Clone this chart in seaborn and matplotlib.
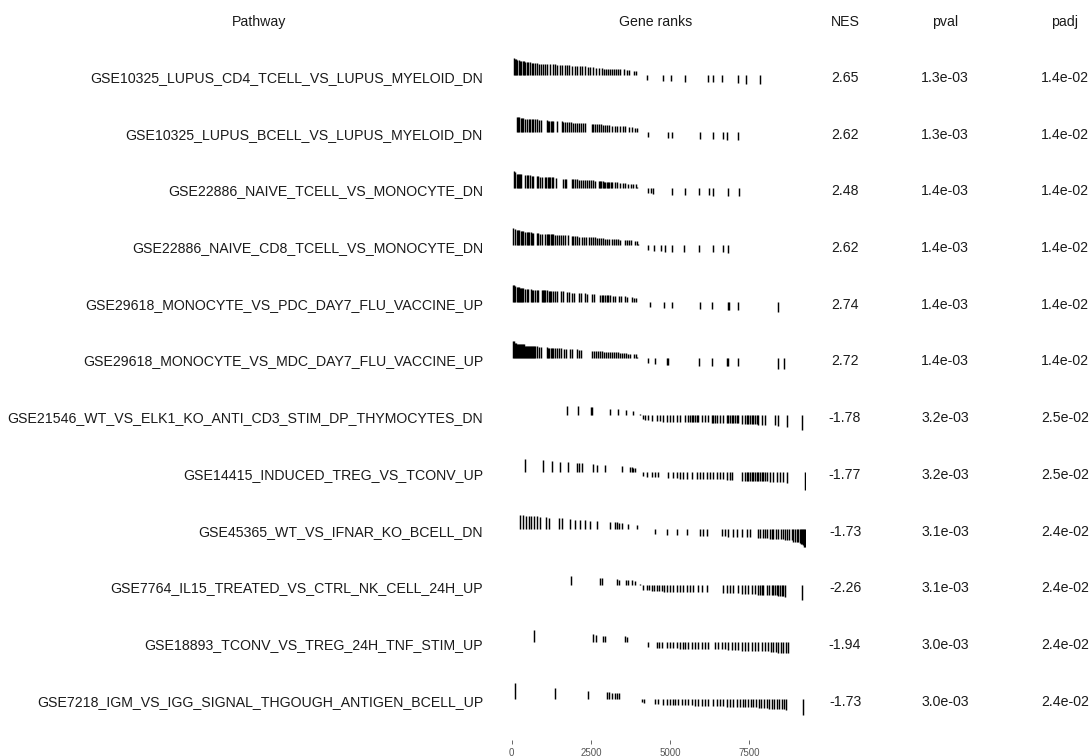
import numpy as np
import pandas as pd
import matplotlib
matplotlib.use("Agg")
import matplotlib.pyplot as plt
import matplotlib.transforms as mtransforms
import seaborn as sns

# ---- GSEA results table -------------------------------------------------
pathways = [
    "GSE10325_LUPUS_CD4_TCELL_VS_LUPUS_MYELOID_DN",
    "GSE10325_LUPUS_BCELL_VS_LUPUS_MYELOID_DN",
    "GSE22886_NAIVE_TCELL_VS_MONOCYTE_DN",
    "GSE22886_NAIVE_CD8_TCELL_VS_MONOCYTE_DN",
    "GSE29618_MONOCYTE_VS_PDC_DAY7_FLU_VACCINE_UP",
    "GSE29618_MONOCYTE_VS_MDC_DAY7_FLU_VACCINE_UP",
    "GSE21546_WT_VS_ELK1_KO_ANTI_CD3_STIM_DP_THYMOCYTES_DN",
    "GSE14415_INDUCED_TREG_VS_TCONV_UP",
    "GSE45365_WT_VS_IFNAR_KO_BCELL_DN",
    "GSE7764_IL15_TREATED_VS_CTRL_NK_CELL_24H_UP",
    "GSE18893_TCONV_VS_TREG_24H_TNF_STIM_UP",
    "GSE7218_IGM_VS_IGG_SIGNAL_THGOUGH_ANTIGEN_BCELL_UP",
]
nes = [2.65, 2.62, 2.48, 2.62, 2.74, 2.72, -1.78, -1.77, -1.73, -2.26, -1.94, -1.73]
pval = [1.3e-3, 1.3e-3, 1.4e-3, 1.4e-3, 1.4e-3, 1.4e-3, 3.2e-3, 3.2e-3, 3.1e-3, 3.1e-3, 3.0e-3, 3.0e-3]
padj = [1.4e-2, 1.4e-2, 1.4e-2, 1.4e-2, 1.4e-2, 1.4e-2, 2.5e-2, 2.5e-2, 2.4e-2, 2.4e-2, 2.4e-2, 2.4e-2]

# ---- ranked gene statistic (scaled to max |stat| = 1) -------------------
n_genes = 9300
stat_rank = [0, 50, 100, 200, 300, 500, 700, 1000, 1250, 1500, 1750, 2000, 2250,
             2500, 2750, 3000, 3250, 3500, 3750, 3900, 4000, 4100, 4200, 4300,
             4500, 5000, 5500, 6000, 6500, 7000, 7500, 8000, 8250, 8500, 8750,
             9000, 9100, 9150, 9200, 9250]
stat_value = [1.0, 0.92, 0.86, 0.80, 0.76, 0.70, 0.66, 0.62, 0.59, 0.56, 0.52, 0.49, 0.46,
              0.43, 0.39, 0.35, 0.33, 0.30, 0.26, 0.22, 0.08, -0.19, -0.24, -0.27,
              -0.30, -0.35, -0.36, -0.38, -0.40, -0.43, -0.47, -0.51, -0.54, -0.57, -0.62,
              -0.70, -0.76, -0.82, -0.90, -1.0]

# ---- positions of pathway genes in the ranked list ----------------------
ranks_1 = [72, 103, 135, 177, 219, 261, 303, 345, 387, 429, 471, 513, 576, 639, 681,
           744, 807, 870, 933, 996, 1059, 1122, 1206, 1290, 1353, 1437, 1521, 1584,
           1668, 1731, 1815, 1899, 1983, 2067, 2151, 2235, 2319, 2403, 2487, 2571,
           2676, 2760, 2844, 2928, 2991, 3054, 3117, 3180, 3243, 3306, 3369, 3432,
           3558, 3642, 3705, 3873, 3936,
           4286, 4781, 5044, 5465, 6200, 6358, 6652, 7147, 7389, 7852]
ranks_2 = [157, 199, 241, 283, 325, 367, 430, 494, 536, 578, 641, 683, 746, 809, 872,
           936, 1104, 1146, 1188, 1230, 1272, 1314, 1419, 1577, 1630, 1693, 1735, 1798,
           1861, 1924, 1988, 2051, 2114, 2177, 2240, 2324, 2524, 2577, 2640, 2703,
           2766, 2829, 2892, 2955, 3018, 3082, 3166, 3250, 3334, 3418, 3503, 3587,
           3692, 3797, 3881, 3944,
           4312, 4943, 5049, 5943, 6343, 6659, 6785, 7153]
ranks_3 = [73, 115, 157, 210, 241, 273, 304, 420, 473, 525, 578, 630, 683, 788, 841,
           893, 946, 1051, 1093, 1135, 1177, 1219, 1262, 1304, 1398, 1630, 1672, 1714,
           1893, 1945, 2008, 2072, 2135, 2198, 2261, 2324, 2387, 2450, 2513, 2577,
           2640, 2745, 2787, 2829, 2871, 2913, 2955, 2997, 3039, 3082, 3124, 3166,
           3260, 3334, 3418, 3503, 3587, 3671, 3755, 3839, 3923, 3960,
           4312, 4396, 4470, 5049, 5470, 5922, 6238, 6364, 6816, 7174]
ranks_4 = [52, 94, 157, 199, 241, 283, 325, 367, 420, 473, 515, 557, 599, 641, 683,
           788, 841, 893, 956, 1062, 1104, 1146, 1188, 1230, 1272, 1314, 1377, 1440,
           1504, 1567, 1630, 1693, 1788, 1893, 1945, 2008, 2072, 2135, 2219, 2282,
           2345, 2429, 2492, 2555, 2619, 2682, 2745, 2808, 2871, 2934, 2997, 3060,
           3166, 3229, 3292, 3355, 3418, 3587, 3650, 3713, 3776, 3892, 3940, 3980,
           4292, 4502, 4712, 4838, 5049, 5438, 5922, 6364, 6659, 6837]
ranks_5 = [31, 62, 94, 157, 189, 220, 252, 283, 315, 346, 430, 473, 515, 599, 641,
           683, 746, 788, 830, 956, 988, 1020, 1051, 1125, 1167, 1209, 1251, 1293,
           1377, 1440, 1546, 1609, 1756, 1819, 1903, 1966, 2114, 2177, 2324, 2387,
           2535, 2598, 2787, 2840, 2892, 2945, 2997, 3050, 3103, 3187, 3250, 3376,
           3439, 3587, 3650, 3797, 3860, 3923,
           4365, 4817, 5059, 5943, 6333, 6816, 6869, 7133, 8416]
ranks_6 = [31, 62, 94, 125, 157, 189, 220, 252, 283, 315, 346, 378, 409, 441, 473,
           504, 536, 567, 599, 630, 662, 694, 725, 809, 872, 936, 1104, 1146, 1188,
           1230, 1272, 1314, 1377, 1440, 1504, 1567, 1651, 1714, 1840, 1903, 2072,
           2135, 2198, 2535, 2598, 2661, 2724, 2787, 2850, 2913, 2976, 3039, 3103,
           3166, 3229, 3292, 3355, 3418, 3481, 3545, 3608, 3671, 3734, 3860, 3923,
           3960,
           4292, 4523, 4891, 4944, 5922, 6333, 6785, 6837, 7153, 8395, 8606]
ranks_7 = [1735, 2103, 2493, 2535, 3103, 3366, 3608, 3840,
           4049, 4134, 4218, 4302, 4428, 4575, 4681, 4786, 4891, 4996, 5101, 5207,
           5312, 5470, 5575, 5627, 5680, 5733, 5785, 5838, 5891, 5996, 6101, 6206,
           6312, 6364, 6417, 6469, 6574, 6680, 6785, 6838, 6890, 6943, 6996, 7048,
           7101, 7153, 7258, 7363, 7416, 7469, 7521, 7574, 7626, 7679, 7732, 7784,
           7890, 7995, 8311, 8416, 8679, 9153]
ranks_8 = [420, 977, 1262, 1525, 1788, 2051, 2135, 2208, 2577, 2682, 2945, 3471,
           3734, 3787, 3840, 3892,
           4155, 4260, 4418, 4523, 4628, 4944, 5101, 5207, 5312, 5417, 5522, 5680,
           5838, 5943, 6048, 6154, 6259, 6364, 6469, 6574, 6680, 6785, 6890, 6943,
           7258, 7363, 7416, 7469, 7521, 7574, 7626, 7679, 7732, 7784, 7837, 7890,
           7942, 7995, 8047, 8153, 8258, 8364, 8469, 8574, 8679, 9257]
ranks_9 = [262, 367, 452, 536, 620, 704, 809, 893, 1083, 1167, 1504, 1588, 1840,
           1998, 2156, 2314, 2472, 2682, 3103, 3261, 3334, 3397, 3471, 3681, 3944,
           4523, 4891, 5207, 5522, 5943, 6048, 6154, 6627, 6733, 6838, 6996, 7101,
           7258, 7416, 7521, 7784, 7837, 7942, 7995, 8047, 8153, 8206, 8258, 8342,
           8416, 8490, 8553, 8627, 8679, 8763, 8837, 8890, 8942, 8995, 9048, 9100,
           9132, 9164, 9195, 9227, 9258]
ranks_10 = [1872, 2787, 2850, 3313, 3376, 3608, 3681, 3787, 3892,
            4049, 4155, 4260, 4344, 4418, 4491, 4575, 4660, 4733, 4807, 4891, 4996,
            5101, 5207, 5312, 5417, 5522, 5627, 5732, 5891, 5996, 6175, 6680, 6785,
            6890, 6996, 7153, 7258, 7363, 7469, 7574, 7679, 7784, 7837, 7890, 7942,
            8047, 8131, 8206, 8258, 8311, 8364, 8416, 8469, 8521, 8574, 8627, 9153]
ranks_11 = [715, 2577, 2661, 2892, 2955, 3576, 3639,
            4312, 4575, 4660, 4744, 4891, 4996, 5101, 5207, 5312, 5396, 5480, 5575,
            5680, 5785, 5891, 5996, 6101, 6206, 6417, 6522, 6627, 6733, 6838, 6943,
            7048, 7153, 7258, 7363, 7469, 7574, 7679, 7784, 7890, 7995, 8100, 8173,
            8258, 8342, 8416, 8490, 8574, 8658, 8732]
ranks_12 = [104, 1367, 2419, 2998, 3082, 3155, 3261, 3334, 3397,
            4102, 4176, 4523, 4628, 4786, 4891, 4996, 5080, 5154, 5259, 5365, 5470,
            5575, 5680, 5785, 5891, 5996, 6101, 6206, 6364, 6469, 6574, 6680, 6785,
            6890, 6996, 7122, 7206, 7290, 7374, 7469, 7542, 7626, 7710, 7795, 7879,
            7963, 8047, 8131, 8206, 8279, 8364, 8448, 8521, 8595, 8658, 9205]
gene_ranks = [ranks_1, ranks_2, ranks_3, ranks_4, ranks_5, ranks_6,
              ranks_7, ranks_8, ranks_9, ranks_10, ranks_11, ranks_12]

x_ticks = [0, 2500, 5000, 7500]

# ---- style ---------------------------------------------------------------
sns.set_theme(style="white")
plt.rcParams["font.family"] = ["Liberation Sans", "DejaVu Sans"]

W, H = 1091, 756
fig = plt.figure(figsize=(W / 100, H / 100), dpi=100)

# layout (pixels from top-left)
x0_px = 511.7            # x position of rank 0
px_per_rank = 1 / 31.57
top_px, bottom_px = 18, 740
first_row_px = 75        # baseline of first row
row_px = 56.7            # distance between rows
bar_px = 18.5            # bar length for |stat| = 1

ax = fig.add_axes([x0_px / W, 1 - bottom_px / H,
                   n_genes * px_per_rank / W, (bottom_px - top_px) / H])
ax.set_facecolor("none")
ax.set_xlim(0, n_genes)
ax.set_ylim((bottom_px - first_row_px) / row_px, (top_px - first_row_px) / row_px)
bar_scale = bar_px / row_px

anchor_r = np.asarray(stat_rank)
anchor_v = np.asarray(stat_value)


def stat_at(ranks):
    r = np.asarray(ranks, dtype=float)
    idx = np.abs(r[:, None] - anchor_r[None, :]).argmin(axis=1)
    return anchor_v[idx]


records = []
for i, rr in enumerate(gene_ranks):
    s = stat_at(rr)
    for r, v in zip(rr, s):
        records.append({"row": i, "rank": r, "stat": v})
df = pd.DataFrame(records)

ax.vlines(df["rank"], df["row"], df["row"] - df["stat"] * bar_scale,
          color="black", linewidth=1.05)

sns.despine(ax=ax, left=True, bottom=True)
ax.set_yticks([])
ax.set_xticks(x_ticks)
ax.set_xticklabels([str(t) for t in x_ticks])
ax.tick_params(axis="x", bottom=True, length=3, width=0.7, color="#666666",
               labelsize=7, labelcolor="#555555", pad=2.5)
ax.grid(False)

# ---- text columns --------------------------------------------------------
trans = mtransforms.blended_transform_factory(fig.transFigure, ax.transData)
text_dy = 3 / row_px
fs = 10.2
txt_color = "#1a1a1a"

col_label_x = 483
col_nes_x = 845
col_pval_x = 945
col_padj_x = 1065

header_y = 1 - 22 / H
fig.text(259 / W, header_y, "Pathway", ha="center", va="center", fontsize=fs, color=txt_color)
fig.text(656 / W, header_y, "Gene ranks", ha="center", va="center", fontsize=fs, color=txt_color)
fig.text(col_nes_x / W, header_y, "NES", ha="center", va="center", fontsize=fs, color=txt_color)
fig.text(col_pval_x / W, header_y, "pval", ha="center", va="center", fontsize=fs, color=txt_color)
fig.text(col_padj_x / W, header_y, "padj", ha="center", va="center", fontsize=fs, color=txt_color)

for i, name in enumerate(pathways):
    y = i + text_dy
    ax.text(col_label_x / W, y, name, transform=trans, ha="right", va="center",
            fontsize=fs, color=txt_color)
    ax.text(col_nes_x / W, y, f"{nes[i]:.2f}", transform=trans, ha="center",
            va="center", fontsize=fs, color=txt_color)
    ax.text(col_pval_x / W, y, f"{pval[i]:.1e}", transform=trans, ha="center",
            va="center", fontsize=fs, color=txt_color)
    ax.text(col_padj_x / W, y, f"{padj[i]:.1e}", transform=trans, ha="center",
            va="center", fontsize=fs, color=txt_color)

fig.savefig("out.png", dpi=100, facecolor="white")
